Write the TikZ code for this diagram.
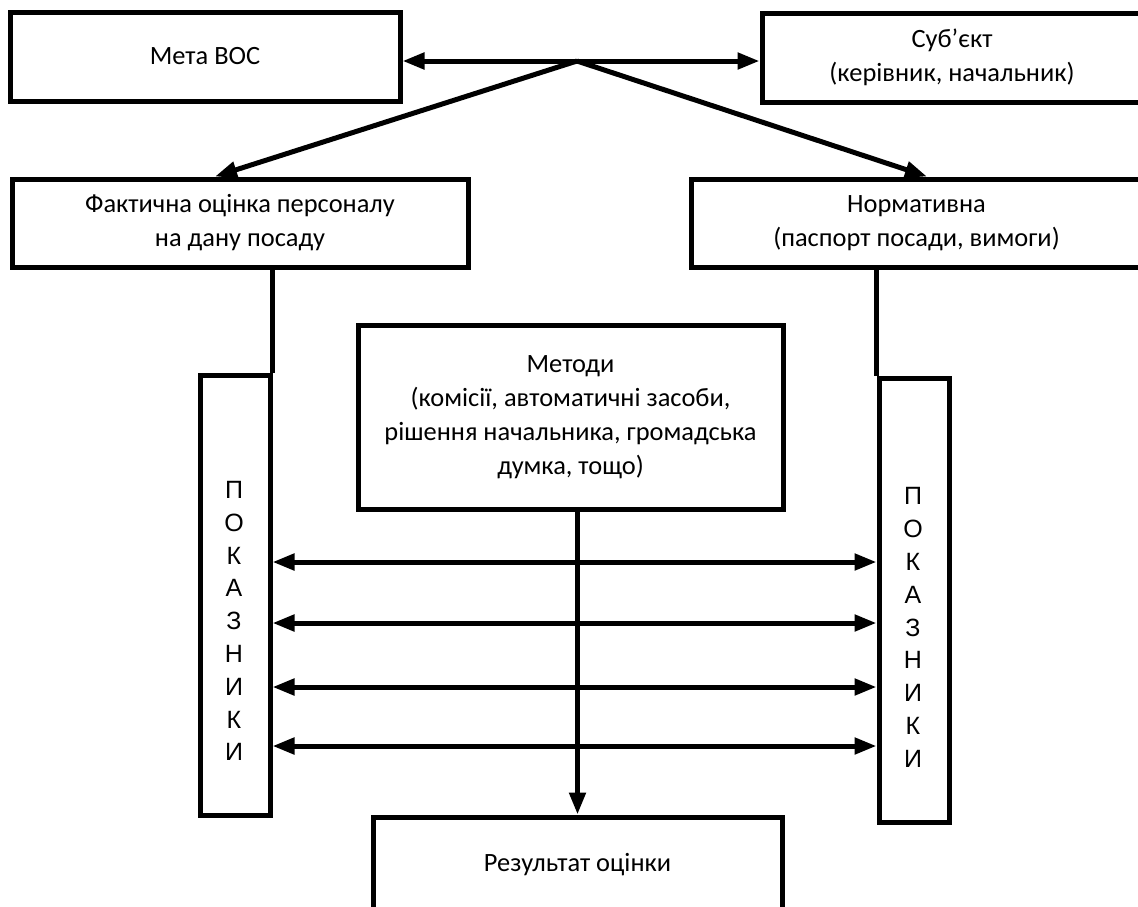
\documentclass[tikz,border=0pt]{standalone}
\usepackage{fontspec}
\setmainfont{Carlito}
\newfontfamily\letterfont{Liberation Sans}
\usetikzlibrary{arrows.meta}

\begin{document}
\begin{tikzpicture}[x=0.5pt,y=-0.5pt,
    box/.style={draw,line width=2.5pt,inner sep=0pt,align=center,
      font=\fontsize{13.2}{17}\selectfont},
    letters/.style={align=center,inner sep=0pt,
      font=\letterfont\fontsize{12.5}{16.4}\selectfont},
    tip/.style={-{Triangle[length=11pt,width=8pt]},line width=2.5pt},
    tips/.style={{Triangle[length=11pt,width=8pt]}-{Triangle[length=11pt,width=8pt]},line width=2.5pt}]
  \useasboundingbox (0,0) rectangle (1138,906);
  \clip (0,0) rectangle (1138,906);
  \draw
    (205,56.5) node[box,minimum width=195pt,minimum height=44.5pt] (meta) {Мета ВОС}
    (952,57.5) node[box,minimum width=190pt,minimum height=44.5pt] (subj) {Суб’єкт\\(керівник, начальник)}
    (240,223) node[box,minimum width=228pt,minimum height=44pt] (fakt) {Фактична оцінка персоналу\\на дану посаду}
    (916.5,223) node[box,minimum width=225.5pt,minimum height=44pt] (norm) {Нормативна\\(паспорт посади, вимоги)}
    (570.5,417) node[box,minimum width=212.5pt,minimum height=92pt] (metody) {Методи\\(комісії, автоматичні засоби,\\рішення начальника, громадська\\думка, тощо)}
    (235,595) node[box,minimum width=35pt,minimum height=220pt] (pokl) {}
    (914,600) node[box,minimum width=35pt,minimum height=222pt] (pokr) {}
    (577.5,864.5) node[box,minimum width=204.5pt,minimum height=47.5pt] (rez) {Результат оцінки};
  \draw
    (234,621) node[letters] (pokltext) {П\\О\\К\\А\\З\\Н\\И\\К\\И}
    (913,627.5) node[letters] (pokrtext) {П\\О\\К\\А\\З\\Н\\И\\К\\И};
  \coordinate (j) at (577,61);
  \begin{scope}[tips]
    \draw (meta.east |- j) -- (subj.west |- j);
    \draw (pokl.east |- 0,562) -- (pokr.west |- 0,562);
    \draw (pokl.east |- 0,623) -- (pokr.west |- 0,623);
    \draw (pokl.east |- 0,687) -- (pokr.west |- 0,687);
    \draw (pokl.east |- 0,746) -- (pokr.west |- 0,746);
  \end{scope}
  \begin{scope}[tip]
    \draw (j) -- ([xshift=-12.5pt]fakt.north);
    \draw (j) -- ([xshift=5.25pt]norm.north);
    \draw (rez.north |- metody.south) -- (rez.north);
  \end{scope}
  \begin{scope}[line width=2.5pt]
    \draw (pokl.north east) -- (pokl.north east |- fakt.south);
    \draw (pokr.north west) -- (pokr.north west |- norm.south);
  \end{scope}
\end{tikzpicture}
\end{document}
